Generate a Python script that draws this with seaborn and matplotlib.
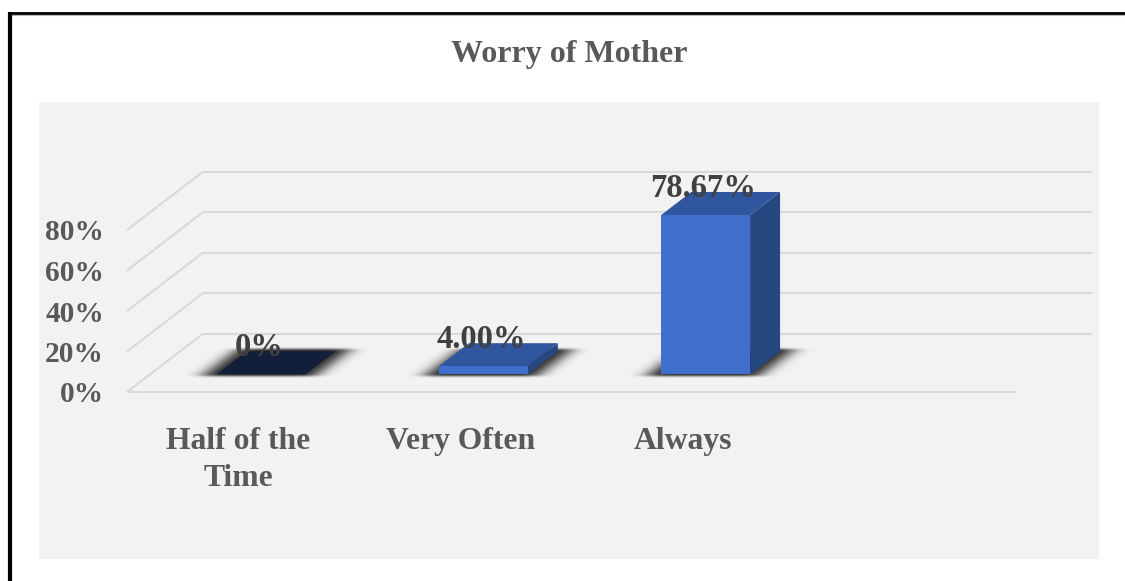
import matplotlib
matplotlib.use('Agg')
import matplotlib.pyplot as plt
import numpy as np
import pandas as pd
import seaborn as sns
from matplotlib.lines import Line2D
from matplotlib.patches import Polygon, Rectangle

categories = ['Half of the\nTime', 'Very Often', 'Always']
values = [0, 4.00, 78.67]
value_labels = ['0%', '4.00%', '78.67%']
y_ticks = [0, 20, 40, 60, 80]
title = 'Worry of Mother'

W, H = 1125, 581
FRONT_COLOR = '#3f6fca'
TOP_COLORS = ['#111f3a', '#2f569e', '#2f569e']
SIDE_COLOR = '#274781'
GRID_COLOR = '#d9d9d9'

sns.set_theme(style='white')
plt.rcParams['font.family'] = ['Liberation Serif', 'DejaVu Serif']
plt.rcParams['font.weight'] = 'bold'


def fig_box(left, top, right, bottom):
    # pixel box (from top left) to figure fractions
    return [left / W, 1 - bottom / H, (right - left) / W, (bottom - top) / H]


def blur(img, sigma, axis):
    radius = int(3 * sigma)
    kernel = np.exp(-0.5 * (np.arange(-radius, radius + 1) / sigma) ** 2)
    kernel /= kernel.sum()
    return np.apply_along_axis(lambda row: np.convolve(row, kernel, mode='same'), axis, img)


fig = plt.figure(figsize=(W / 100, H / 100), dpi=100, facecolor='white')

# panel and the black frame of the picture
fig.add_artist(Rectangle((39 / W, 1 - 559 / H), 1060 / W, 457 / H, transform=fig.transFigure,
                         facecolor='#f2f2f2', edgecolor='none', zorder=-5))
fig.add_artist(Line2D([8 / W, 1], [1 - 15 / H, 1 - 15 / H], color='#b5b5b5', lw=0.8,
                      solid_capstyle='butt'))
fig.add_artist(Line2D([8 / W, 1], [1 - 13.2 / H, 1 - 13.2 / H], color='black', lw=2.0,
                      solid_capstyle='butt'))
fig.add_artist(Line2D([10 / W, 10 / W], [0, 1 - 12 / H], color='black', lw=3.0,
                      solid_capstyle='butt'))

fig.text(569.5 / W, 1 - 54.5 / H, title, ha='center', va='center', fontsize=23,
         fontweight='bold', color='#595959')

# front plane of the 3d box: carries the tick labels
ax = fig.add_axes(fig_box(127, 230, 1016, 392))
ax.patch.set_alpha(0)
# bars stand half way into the floor
ax_bars = fig.add_axes(fig_box(150, 212.3, 1039, 374.3))
ax_bars.patch.set_alpha(0)

df = pd.DataFrame({'category': categories, 'value': values})
sns.barplot(data=df, x='category', y='value', ax=ax_bars, color=FRONT_COLOR,
            saturation=1, width=0.4, zorder=3, linewidth=0, edgecolor='none')
sns.despine(ax=ax, left=True, bottom=True, top=True, right=True)
sns.despine(ax=ax_bars, left=True, bottom=True, top=True, right=True)
ax_bars.set_xticks([])
ax_bars.set_yticks([])
ax_bars.set_xlabel('')
ax_bars.set_ylabel('')

ax.set_xlim(-0.5, 3.5)
ax.set_ylim(0, 80)
ax.set_xticks(range(len(categories)))
ax.set_xticklabels(categories, fontsize=22.8, fontweight='bold', color='#595959', linespacing=1.35)
ax.set_yticks(y_ticks)
ax.set_yticklabels([f'{v}%' for v in y_ticks], fontsize=21.2, fontweight='bold', color='#595959')
ax.tick_params(axis='x', length=0, pad=25.5)
ax.tick_params(axis='y', length=0, pad=16.5)
ax.grid(False)

# pixels to data units
x_unit = 889 / 4
y_unit = 162 / 80
floor_dx, floor_dy = 76 / x_unit, 58.3 / y_unit
bar_dx, bar_dy = 30 / x_unit, 23 / y_unit

# floor and back wall lines
line_style = dict(color=GRID_COLOR, lw=1.5, clip_on=False, solid_capstyle='butt')
ax.plot([-0.5, 3.5], [0, 0], **line_style)
for v in y_ticks:
    ax.plot([-0.5, -0.5 + floor_dx], [v, v + floor_dy], **line_style)
    ax.plot([-0.5 + floor_dx, 3.5 + floor_dx], [v + floor_dy, v + floor_dy], **line_style)

# 3d faces built on the bars seaborn drew
for bar, top_color, label in zip(list(ax_bars.patches), TOP_COLORS, value_labels):
    x0, x1 = bar.get_x(), bar.get_x() + bar.get_width()
    h = bar.get_height()

    # soft floor shadow, a blurred copy of the bar footprint
    grow_x, grow_y = 12 / x_unit, 2 / y_unit
    span = x1 - x0 + bar_dx + 120 / x_unit
    sx = np.linspace(x0 - 60 / x_unit, x1 + bar_dx + 60 / x_unit, int(round(span * x_unit)))
    sy = np.linspace(-12 / y_unit, bar_dy + 12 / y_unit, 47)
    X, Y = np.meshgrid(sx, sy)
    u = X - Y / bar_dy * bar_dx
    mask = ((u >= x0 - grow_x) & (u <= x1 + grow_x) & (Y >= -grow_y) & (Y <= bar_dy + grow_y)).astype(float)
    mask = blur(blur(mask, 9, 1), 1.2, 0)
    rgba = np.zeros(mask.shape + (4,))
    rgba[..., 3] = mask * 0.85
    ax_bars.imshow(rgba, origin='lower', aspect='auto', extent=(sx[0], sx[-1], sy[0], sy[-1]),
                   interpolation='bilinear', clip_on=False, zorder=1)

    ax_bars.add_patch(Polygon([(x1, 0), (x1 + bar_dx, bar_dy), (x1 + bar_dx, h + bar_dy), (x1, h)],
                              facecolor=SIDE_COLOR, edgecolor='none', clip_on=False, zorder=2))
    ax_bars.add_patch(Polygon([(x0, h), (x1, h), (x1 + bar_dx, h + bar_dy), (x0 + bar_dx, h + bar_dy)],
                              facecolor=top_color, edgecolor='none', clip_on=False, zorder=2))
    ax_bars.annotate(label, ((x0 + x1) / 2, h), xytext=(-1.5, 19), textcoords='offset points',
                     ha='center', va='center', fontsize=23.5, fontweight='bold',
                     color='#404040', zorder=5, annotation_clip=False)

ax_bars.set_xlim(-0.5, 3.5)
ax_bars.set_ylim(0, 80)

fig.savefig('out.png', dpi=100)
